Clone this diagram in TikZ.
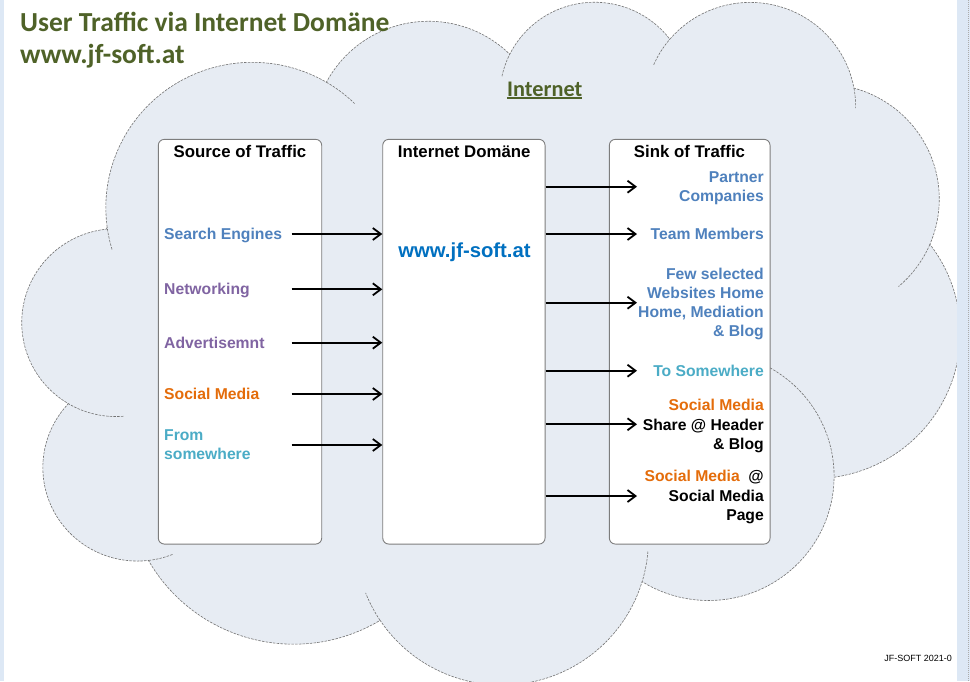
\documentclass[tikz,border=0pt]{standalone}
\usepackage{fontspec}
\setmainfont{Liberation Sans}
\newfontfamily\calfont{Carlito}
\usetikzlibrary{arrows.meta}
\definecolor{cloudfill}{RGB}{231,236,243}
\definecolor{cloudedge}{RGB}{115,115,115}
\definecolor{titlegreen}{HTML}{4F6228}
\definecolor{itemblue}{HTML}{4F81BD}
\definecolor{itempurple}{HTML}{8064A2}
\definecolor{itemorange}{HTML}{E46C0A}
\definecolor{itemaqua}{HTML}{4BACC6}
\definecolor{domblue}{HTML}{0070C0}
\definecolor{stripblue}{RGB}{221,232,245}
\definecolor{boxedge}{RGB}{125,125,125}

% cloud outline (office cloud geometry, path space scaled 1/10)
\def\cloudarcs{675.3/919.0/-190.4875/123.7805, 533.3/726.7/-144.1024/89.9452, 436.5/594.5/-145.8079/99.7230, 485.7/659.5/-130.9861/117.2417, 533.3/727.3/-78.7089/109.0269, 677.5/922.0/-46.2673/130.2690, 578.5/786.7/0.6250/114.0333, 675.2/921.5/22.4516/115.1726, 772.0/1054.3/66.2426/75.7110, 436.0/591.8/-274.9421/146.7356, 434.5/594.5/-246.8285/152.5189}
\xdef\curx{390}\xdef\cury{1437}
\gdef\cloudpath{}
\foreach \cA/\cB/\cS/\cW [count=\ci] in \cloudarcs {
  \pgfmathsetmacro\ts{atan2((\cA)*sin(\cS), (\cB)*cos(\cS))}
  \pgfmathsetmacro\tz{atan2((\cA)*sin((\cS)+(\cW)), (\cB)*cos((\cS)+(\cW)))}
  \pgfmathsetmacro\te{(\ts)+mod((\tz)-(\ts)+720,360)}
  \pgfmathsetmacro\ccx{(\curx)-(\cA)*cos(\ts)}
  \pgfmathsetmacro\ccy{(\cury)-(\cB)*sin(\ts)}
  \pgfmathsetmacro\nx{(\ccx)+(\cA)*cos(\te)}
  \pgfmathsetmacro\ny{(\ccy)+(\cB)*sin(\te)}
  \expandafter\xdef\csname clcx\ci\endcsname{\ccx}
  \expandafter\xdef\csname clcy\ci\endcsname{\ccy}
  \expandafter\xdef\csname cla\ci\endcsname{\cA}
  \expandafter\xdef\csname clb\ci\endcsname{\cB}
  \xdef\cloudpath{\unexpanded\expandafter{\cloudpath} -- plot[domain=\ts:\te, samples=40] ({\ccx+\cA*cos(\noexpand\x)},{\ccy+\cB*sin(\noexpand\x)})}
  \xdef\curx{\nx}\xdef\cury{\ny}
}
\newcommand\innerarc[3]{%
  \edef\ia{\csname cla#1\endcsname}\edef\ib{\csname clb#1\endcsname}%
  \edef\icx{\csname clcx#1\endcsname}\edef\icy{\csname clcy#1\endcsname}%
  \pgfmathsetmacro\its{atan2((\ia)*sin(#2), (\ib)*cos(#2))}%
  \pgfmathsetmacro\itz{atan2((\ia)*sin((#2)+(#3)), (\ib)*cos((#2)+(#3)))}%
  \pgfmathsetmacro\ite{(\its)+mod((\itz)-(\its)+720,360)}%
  \draw[cloudline] plot[domain=\its:\ite, samples=20] ({\icx+\ia*cos(\x)},{\icy+\ib*sin(\x)});%
}

\begin{document}
\begin{tikzpicture}[x=1pt,y=-1pt,
  cloudline/.style={draw=cloudedge, line width=0.6pt, dash pattern=on 2.5pt off 1.2pt},
  box/.style={draw=boxedge, line width=0.9pt, fill=white, rounded corners=6pt,
    minimum width=#1, minimum height=404.7pt, inner sep=0pt},
  arr/.style={line width=1.8pt, -{Straight Barb[length=8pt,width=12pt]}},
  hdr/.style={font=\fontsize{16.8}{19}\selectfont\bfseries, inner sep=0pt, anchor=base},
  item/.style={font=\fontsize{15.7}{19}\selectfont\bfseries, inner sep=0pt},
  litem/.style={item, anchor=base west},
  ritem/.style={item, anchor=base east}]
\useasboundingbox (0,0) rectangle (970,681);
\fill[white] (0,0) rectangle (970,681);

% cloud
\begin{scope}[shift={(22.5,0)}, x=0.217pt, y=-0.158pt]
  \fill[cloudfill] (390,1437) \cloudpath -- cycle;
  \draw[cloudline] (390,1437) \cloudpath -- cycle;
  \innerarc{11}{86.742}{26.4295}
  \innerarc{10}{73.6105}{11.4475}
  \innerarc{8}{137.6242}{14.0811}
  \innerarc{8}{6.4533}{15.9984}
  \innerarc{7}{-70.2924}{70.9174}
  \innerarc{5}{30.3180}{27.7515}
  \innerarc{4}{-13.7443}{14.8589}
  \innerarc{4}{-149.1815}{18.1954}
  \innerarc{3}{-163.4943}{17.6864}
  \innerarc{1}{-66.7070}{12.3194}
  \innerarc{1}{157.6544}{11.8582}
\end{scope}

% side strips
\fill[stripblue] (0,0) rectangle (4,681);
\fill[stripblue] (957,0) rectangle (970,681);
\draw[cloudedge!60, line width=0.5pt, dash pattern=on 1pt off 1pt] (968,0) -- (968,681);

% titles
\node[font=\calfont\bfseries\fontsize{27.5}{30}\selectfont, text=titlegreen, inner sep=0pt, anchor=base west] (t1) at (20,31.7) {User Traffic via Internet Domäne};
\node[font=\calfont\bfseries\fontsize{27.5}{30}\selectfont, text=titlegreen, inner sep=0pt, anchor=base west] (t2) at (20,63) {www.jf-soft.at};
\node[font=\calfont\bfseries\fontsize{22.3}{25}\selectfont, text=titlegreen, inner sep=0pt, anchor=base west] (int) at (507,96) {Internet};
\draw[titlegreen, line width=1.3pt] ([yshift=-2pt]int.base west) -- ([yshift=-2pt]int.base east);

% boxes
\node[box=163.4pt] (src) at (240,341.7) {};
\node[box=162.3pt] (dom) at (463.9,341.7) {};
\node[box=160.7pt] (snk) at (689.7,341.7) {};

\node[hdr] (hsrc) at (240,157.5) {Source of Traffic};
\node[hdr] (hdom) at (464.2,157.5) {Internet Domäne};
\node[hdr] (hsnk) at (689.5,157.5) {Sink of Traffic};

\node[font=\fontsize{20.3}{23}\selectfont\bfseries, text=domblue, inner sep=0pt, anchor=base] (www) at (464.5,257) {www.jf-soft.at};

% left items
\node[litem, text=itemblue] (se) at (164,239) {Search Engines};
\node[litem, text=itempurple] (nw) at (164,294.3) {Networking};
\node[litem, text=itempurple] (ad) at (164,348.3) {Advertisemnt};
\node[litem, text=itemorange] (sm) at (164,399.3) {Social Media};
\node[litem, text=itemaqua] (fr1) at (164,440) {From};
\node[litem, text=itemaqua] (fr2) at (164,459.3) {somewhere};

% right items
\node[ritem, text=itemblue] (pc1) at (764,182.7) {Partner};
\node[ritem, text=itemblue] (pc2) at (764,201.7) {Companies};
\node[ritem, text=itemblue] (tm) at (764,239.3) {Team Members};
\node[ritem, text=itemblue] (fw1) at (764,279.3) {Few selected};
\node[ritem, text=itemblue] (fw2) at (764,298.3) {Websites Home};
\node[ritem, text=itemblue] (fw3) at (764,317.3) {Home, Mediation};
\node[ritem, text=itemblue] (fw4) at (764,336.4) {\& Blog};
\node[ritem, text=itemaqua] (tsw) at (764,376) {To Somewhere};
\node[ritem, text=itemorange] (sh1) at (764,410.7) {Social Media};
\node[ritem, text=black] (sh2) at (764,430) {Share @ Header};
\node[ritem, text=black] (sh3) at (764,449.3) {\& Blog};
\node[ritem, text=black] (sp1) at (764,481.7) {\textcolor{itemorange}{Social Media}\ \ @};
\node[ritem, text=black] (sp2) at (764,501) {Social Media};
\node[ritem, text=black] (sp3) at (764,520) {Page};

% left arrows
\coordinate (a1) at (291.5,234);
\coordinate (a2) at (291.5,289.3);
\coordinate (a3) at (291.5,342.7);
\coordinate (a4) at (291.5,394);
\coordinate (a5) at (291.5,445);
\foreach \c in {a1,a2,a3,a4,a5} \draw[arr] (\c) -- (\c -| dom.west);

% right arrows
\coordinate (b1) at (637,186.7);
\coordinate (b2) at (637,234);
\coordinate (b3) at (637,302.7);
\coordinate (b4) at (637,370.7);
\coordinate (b5) at (637,424.3);
\coordinate (b6) at (637,496);
\foreach \c in {b1,b2,b3,b4,b5,b6} \draw[arr] (\c -| dom.east) -- (\c);

\node[font=\fontsize{9}{10}\selectfont, inner sep=0pt, anchor=base east] (foot) at (952,661.7) {JF-SOFT 2021-0};
\end{tikzpicture}
\end{document}
